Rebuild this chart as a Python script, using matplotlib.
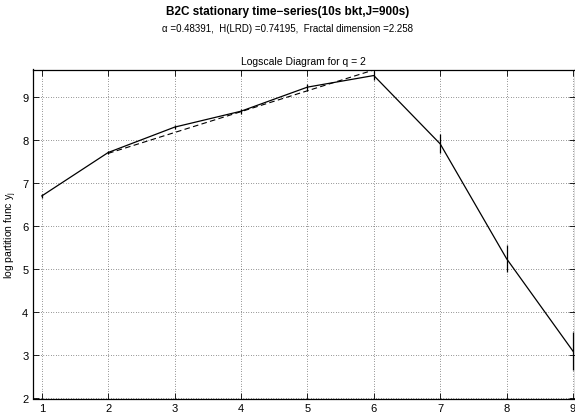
import numpy as np
import matplotlib
matplotlib.use("Agg")
import matplotlib.pyplot as plt

plt.rcParams['font.family'] = ['Liberation Sans', 'DejaVu Sans']

# octaves j and log partition function values
octave = [1, 2, 3, 4, 5, 6, 7, 8, 9]
yj = [6.71, 7.72, 8.31, 8.68, 9.24, 9.51, 7.92, 5.25, 3.10]
yj_err = [0.04, 0.04, 0.05, 0.06, 0.08, 0.11, 0.22, 0.31, 0.44]

# fitted regression line over octaves 2..6
fit_j = [2, 6]
fit_y = [7.70, 9.64]

fig = plt.figure(figsize=(5.75, 4.14), dpi=100)
ax = fig.add_axes([32.5/575, 1 - 399.5/414, 1 - 32.5/575, (399.5 - 70.5)/414])

ax.errorbar(octave, yj, yerr=yj_err, color='black', lw=0.9, elinewidth=0.9, capsize=0)
ax.plot(fit_j, fit_y, color='black', lw=0.8, ls=(0, (5, 3)))

ax.set_xlim(0.86, 9.03)
ax.set_ylim(2, 9.65)
ax.set_xticks(octave)
ax.set_yticks([2, 3, 4, 5, 6, 7, 8, 9])
ax.tick_params(direction='in', top=True, right=True, labelsize=8, length=4, width=0.6, pad=3)
ax.grid(True, color='black', ls=(0, (1, 3)), lw=0.45)
for s in ax.spines.values():
    s.set_linewidth(0.9)

ax.set_ylabel('log partition func $\\mathregular{y_j}$', fontsize=7.5, labelpad=2)
ax.set_title('Logscale Diagram for q = 2', fontsize=7.5, pad=4)

fig.text(0.5, 1 - 12/414, 'B2C stationary time\u2212series(10s bkt,J=900s)',
         ha='center', va='center', fontsize=8.5, fontweight='bold')
fig.text(0.5, 1 - 29/414, '\u03b1 =0.48391,  H(LRD) =0.74195,  Fractal dimension =2.258',
         ha='center', va='center', fontsize=7)

fig.savefig('out.png', dpi=100)
